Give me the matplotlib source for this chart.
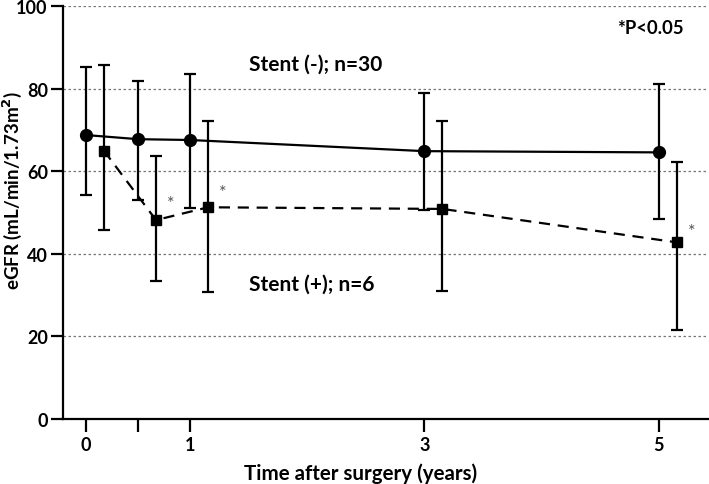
import numpy as np
import matplotlib
matplotlib.use("Agg")
import matplotlib.pyplot as plt
import matplotlib.transforms as mtransforms

plt.rcParams['font.family'] = ['Lato', 'DejaVu Sans']

# data
years = [0, 0.5, 1, 3, 5]
tick_labels = ['0', '', '1', '3', '5']

neg_mean = [68.8, 67.8, 67.6, 64.9, 64.6]
neg_hi = [85.2, 82.0, 83.7, 79.0, 81.2]
neg_lo = [54.3, 53.1, 51.1, 50.7, 48.5]

pos_mean = [65.0, 48.2, 51.3, 50.9, 42.8]
pos_hi = [85.8, 63.7, 72.1, 72.3, 62.3]
pos_lo = [45.8, 33.5, 30.7, 31.1, 21.6]

sig_years = [0.5, 1, 5]
sig_y = [52.3, 55.0, 45.5]


# x axis in the source is not quite linear: first year is compressed
def fwd(x):
    x = np.asarray(x, dtype=float)
    return np.where(x < 1, 104 * x, 104 + 117 * (x - 1))


def inv(y):
    y = np.asarray(y, dtype=float)
    return np.where(y < 104, y / 104, 1 + (y - 104) / 117)


fig = plt.figure(figsize=(7.09, 4.85), dpi=100)
ax = fig.add_axes([0.0889, 0.134, 0.9097, 0.851])
ax.set_xscale('function', functions=(fwd, inv))

neg_err = [np.subtract(neg_mean, neg_lo), np.subtract(neg_hi, neg_mean)]
pos_err = [np.subtract(pos_mean, pos_lo), np.subtract(pos_hi, pos_mean)]

ax.errorbar(years, neg_mean, yerr=neg_err, fmt='-o', color='black', lw=1.6,
            ms=8.5, elinewidth=1.6, capsize=4, capthick=1.6, zorder=3)

# Stent (+) group drawn slightly to the right of the time points
shift = mtransforms.offset_copy(ax.transData, fig=fig, x=18, y=0, units='dots')
ax.errorbar(years, pos_mean, yerr=pos_err, fmt='s', color='black',
            ms=7, elinewidth=1.6, capsize=4, capthick=1.6, zorder=3,
            transform=shift)
ax.plot(years, pos_mean, color='black', lw=1.6, dashes=(5, 3.5), transform=shift,
        zorder=2)

shift2 = mtransforms.offset_copy(ax.transData, fig=fig, x=33, y=0, units='dots')
for xs, ys in zip(sig_years, sig_y):
    ax.text(xs, ys, '*', transform=shift2, fontsize=13, color='#555555',
            ha='center', va='center')

ax.set_xlim(-0.22, 5.42)
ax.set_ylim(0, 100)
ax.set_yticks([0, 20, 40, 60, 80, 100])
ax.set_xticks(years)
ax.set_xticklabels(tick_labels)
for yv in [20, 40, 60, 80, 100]:
    ax.axhline(yv, color='#777777', lw=0.9, ls=(0, (2, 2)), zorder=1)

ax.spines['top'].set_visible(False)
ax.spines['right'].set_visible(False)
ax.spines['left'].set_linewidth(1.6)
ax.spines['bottom'].set_linewidth(1.6)
ax.tick_params(axis='both', width=1.6, length=9, labelsize=13)
ax.tick_params(axis='y', pad=2)
for lab in ax.get_xticklabels() + ax.get_yticklabels():
    lab.set_fontweight('bold')

ax.set_ylabel('eGFR (mL/min/1.73m$^{\\mathbf{2}}$)', fontsize=13.5, fontweight='bold')
ax.yaxis.set_label_coords(-0.061, 0.555)
ax.set_xlabel('Time after surgery (years)', fontsize=14.8, fontweight='bold')
ax.xaxis.set_label_coords(0.462, -0.104)

ax.text(1.5, 86, 'Stent (-); n=30', fontsize=15, fontweight='bold', ha='left', va='center')
ax.text(1.5, 32.7, 'Stent (+); n=6', fontsize=15, fontweight='bold', ha='left', va='center')
ax.text(4.93, 94.8, '*P<0.05', fontsize=13.3, fontweight='bold', ha='center', va='center')

fig.savefig('out.png', dpi=100)
